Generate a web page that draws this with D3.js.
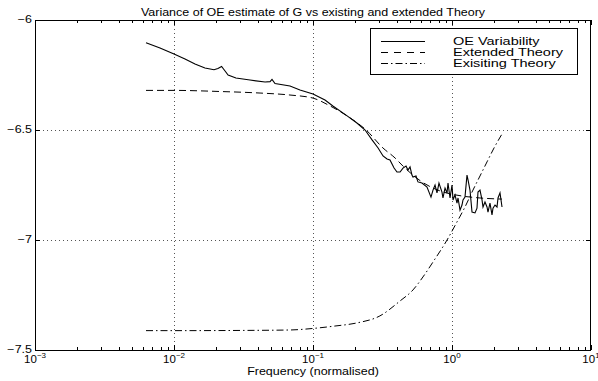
<!DOCTYPE html>
<html>
<head>
<meta charset="utf-8">
<script src="https://cdn.jsdelivr.net/npm/d3@7"></script>
<style>
body { margin: 0; background: #fff; }
text { font-family: "Liberation Sans", Arial, Helvetica, sans-serif; fill: #000; }
</style>
</head>
<body>
<div id="chart"></div>
<script>
// values
var freqOE = [0.00629,0.00793,0.0100,0.0120,0.01416,0.0167,0.0194,0.0207,0.0220,0.0233,
    0.0245,0.0279,0.0352,0.0452,0.0491,0.0507,0.0533,0.0683,0.0806,0.100,
    0.122,0.139,0.176,0.207,0.237,0.266,0.294,0.319,0.341,0.358,
    0.383,0.402,0.423,0.444,0.467,0.482,0.499,0.515,0.524,0.551,
    0.569,0.608,0.661,0.706,0.730,0.755,0.780,0.806,0.847,0.861,
    0.891,0.921,0.936,0.968,1.000,1.017,1.051,1.086,1.105,1.142,
    1.180,1.200,1.240,1.282,1.304,1.347,1.393,1.464,1.513,1.538,
    1.590,1.644,1.671,1.727,1.786,1.815,1.876,1.940,1.972,2.039,
    2.108,2.143,2.215,2.290];
var oeVar = [-6.103,-6.127,-6.155,-6.177,-6.200,-6.218,-6.226,-6.220,-6.211,-6.232,
    -6.250,-6.264,-6.273,-6.282,-6.280,-6.270,-6.289,-6.300,-6.318,-6.336,
    -6.364,-6.391,-6.436,-6.468,-6.500,-6.545,-6.582,-6.618,-6.632,-6.636,
    -6.673,-6.691,-6.691,-6.673,-6.664,-6.682,-6.668,-6.705,-6.714,-6.709,
    -6.736,-6.741,-6.759,-6.805,-6.773,-6.750,-6.786,-6.741,-6.782,-6.809,
    -6.764,-6.786,-6.741,-6.809,-6.750,-6.818,-6.795,-6.832,-6.809,-6.864,
    -6.841,-6.818,-6.805,-6.705,-6.727,-6.773,-6.873,-6.877,-6.855,-6.782,
    -6.773,-6.818,-6.850,-6.827,-6.850,-6.873,-6.832,-6.886,-6.855,-6.841,
    -6.850,-6.809,-6.786,-6.850];

var freqExt = [0.00629,0.0100,0.0214,0.0416,0.0683,0.100,0.133,0.185,0.241,0.319,
    0.389,0.444,0.608,0.820,1.180,1.590,2.290];
var extTheory = [-6.320,-6.320,-6.325,-6.332,-6.341,-6.355,-6.391,-6.445,-6.500,-6.582,
    -6.627,-6.664,-6.736,-6.777,-6.800,-6.809,-6.814];

var freqExist = [0.00629,0.0100,0.0314,0.0683,0.100,0.144,0.207,0.303,0.423,0.524,
    0.618,0.730,0.921,1.086,1.240,1.416,1.590,1.786,2.005,2.290];
var existTheory = [-7.412,-7.412,-7.411,-7.409,-7.402,-7.391,-7.377,-7.345,-7.277,-7.227,
    -7.168,-7.100,-7.000,-6.918,-6.850,-6.773,-6.709,-6.645,-6.582,-6.518];

var xTicks = [1e-3, 1e-2, 1e-1, 1, 10];
var xTickExp = ["\u22123", "\u22122", "\u22121", "0", "1"];
var yTicks = [-7.5, -7, -6.5, -6];
var yTickLabels = ["\u22127.5", "\u22127", "\u22126.5", "\u22126"];
var seriesNames = ["OE Variability", "Extended Theory", "Exisiting Theory"];

var W = 598, H = 381;
var plotL = 35, plotR = 591, plotT = 20, plotB = 350;
var sx = 1.25; // text in the picture is stretched sideways

var svg = d3.select("#chart").append("svg")
    .attr("width", W).attr("height", H);

var x = d3.scaleLog().domain([1e-3, 10]).range([plotL, plotR]);
var y = d3.scaleLinear().domain([-7.5, -6]).range([plotB, plotT]);

function label(txt, px, py, size, anchor, stretch) {
    return svg.append("text")
        .attr("transform", "translate(" + px + "," + py + ") scale(" + (stretch || sx) + ",1)")
        .attr("text-anchor", anchor)
        .style("font-size", size + "px")
        .text(txt);
}

// minor tick positions
var minors = [];
[1e-3, 1e-2, 1e-1, 1].forEach(function (d) {
    for (var k = 2; k <= 9; k++) minors.push(d * k);
});

// grid
var grid = svg.append("g").attr("class", "grid");
grid.append("g")
    .attr("transform", "translate(0," + plotB + ")")
    .call(d3.axisBottom(x).tickValues([1e-2, 1e-1, 1]).tickSize(-(plotB - plotT)).tickFormat(""));
grid.append("g")
    .attr("transform", "translate(" + plotL + ",0)")
    .call(d3.axisLeft(y).tickValues([-7, -6.5]).tickSize(-(plotR - plotL)).tickFormat(""));
grid.selectAll(".domain").remove();
grid.selectAll("line")
    .attr("stroke", "#555")
    .attr("stroke-dasharray", "1,3")
    .attr("shape-rendering", "crispEdges");

// ticks, inward on all four sides
function ticks(axis, tx, ty) {
    var g = svg.append("g").attr("transform", "translate(" + tx + "," + ty + ")").call(axis);
    g.select(".domain").remove();
    g.selectAll("line").attr("stroke", "#000").attr("shape-rendering", "crispEdges");
}
ticks(d3.axisBottom(x).tickValues(xTicks).tickSize(-5).tickFormat(""), 0, plotB);
ticks(d3.axisBottom(x).tickValues(minors).tickSize(-3).tickFormat(""), 0, plotB);
ticks(d3.axisTop(x).tickValues(xTicks).tickSize(-5).tickFormat(""), 0, plotT);
ticks(d3.axisTop(x).tickValues(minors).tickSize(-3).tickFormat(""), 0, plotT);
ticks(d3.axisLeft(y).tickValues(yTicks).tickSize(-5).tickFormat(""), plotL, 0);
ticks(d3.axisRight(y).tickValues(yTicks).tickSize(-5).tickFormat(""), plotR, 0);

// frame
svg.append("rect")
    .attr("x", plotL + 0.5).attr("y", plotT + 0.5)
    .attr("width", plotR - plotL - 1).attr("height", plotB - plotT)
    .attr("fill", "none").attr("stroke", "#000")
    .attr("shape-rendering", "crispEdges");

// tick labels
yTicks.forEach(function (d, i) {
    label(yTickLabels[i], plotL - 3, y(d) + 3, 10, "end");
});
xTicks.forEach(function (d, i) {
    var t = label("", x(d), 363, 10, "middle", 1.15);
    t.append("tspan").text("10");
    t.append("tspan").attr("dy", -5).style("font-size", "7px").text(xTickExp[i]);
});

// lines
var line = d3.line()
    .x(function (d) { return x(d[0]); })
    .y(function (d) { return y(d[1]); });

svg.append("path")
    .datum(d3.zip(freqExist, existTheory))
    .attr("fill", "none").attr("stroke", "#000").attr("stroke-width", 1)
    .attr("stroke-dasharray", "7,3,1.5,3")
    .attr("d", line.curve(d3.curveMonotoneX));

svg.append("path")
    .datum(d3.zip(freqExt, extTheory))
    .attr("fill", "none").attr("stroke", "#000").attr("stroke-width", 1)
    .attr("stroke-dasharray", "7,4")
    .attr("d", line.curve(d3.curveMonotoneX));

svg.append("path")
    .datum(d3.zip(freqOE, oeVar))
    .attr("fill", "none").attr("stroke", "#000").attr("stroke-width", 1.1)
    .attr("d", line.curve(d3.curveLinear));

// legend
var lg = svg.append("g");
lg.append("rect")
    .attr("x", 370.5).attr("y", 28.5).attr("width", 207).attr("height", 46)
    .attr("fill", "#fff").attr("stroke", "#000")
    .attr("shape-rendering", "crispEdges");
var dashes = [null, "7,6", "7,3,1.5,3"];
seriesNames.forEach(function (name, i) {
    var ly = 41 + i * 11;
    lg.append("line")
        .attr("x1", 381).attr("x2", 425).attr("y1", ly + 0.5).attr("y2", ly + 0.5)
        .attr("stroke", "#000").attr("stroke-dasharray", dashes[i]);
    label(name, 453, ly + 4, 10.5, "start", 1.38);
});

// titles
label("Variance of OE estimate of G vs existing and extended Theory", (plotL + plotR) / 2, 15.5, 10, "middle");
label("Frequency (normalised)", (plotL + plotR) / 2, 375, 10, "middle");
</script>
</body>
</html>
